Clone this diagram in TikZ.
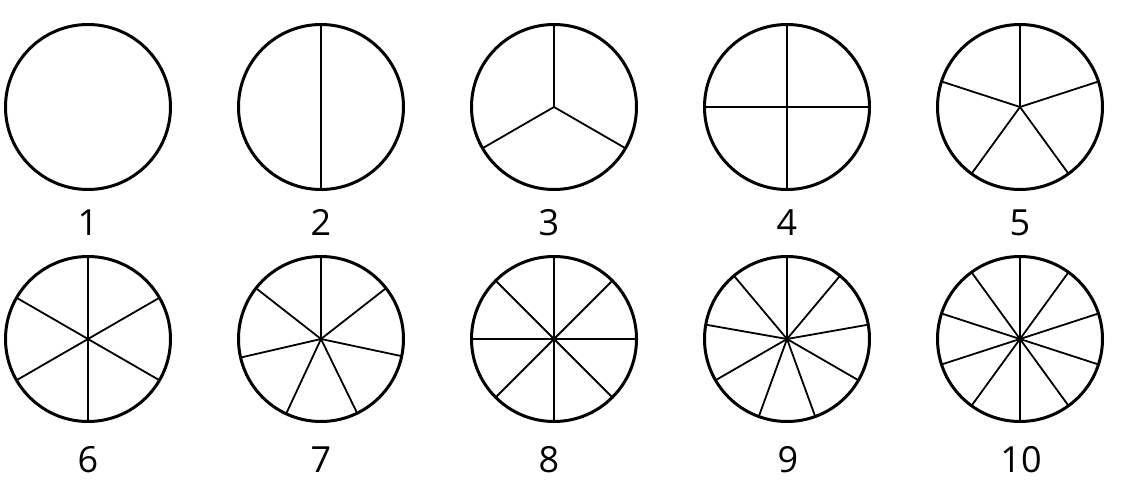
\documentclass[tikz,border=0pt]{standalone}
\usepackage{fontspec}
\setmainfont{Open Sans}
\begin{document}
\begin{tikzpicture}[x=1pt,y=-1pt,
  pie/.style={circle,draw=black,line width=3pt,minimum size=165pt,inner sep=0pt,outer sep=0pt},
  spoke/.style={line width=1.8pt,black},
  lab/.style={anchor=base,inner sep=0pt,font=\fontsize{36}{40}\selectfont}]
\useasboundingbox (0,0) rectangle (1136,502);
\foreach \n/\x/\y in {1/88/107,2/321/107,3/554/107,4/787/107,5/1020/107,
                      6/88/339,7/321/339,8/554/339,9/787/339,10/1020/339}
  \node[pie] (c\n) at (\x,\y) {};
\foreach \n/\x/\y in {1/88/236,2/321/236,3/549/236,4/787/236,5/1020/236,
                      6/88/473,7/321/473,8/549/473,9/788/473,10/1021/473}
  \node[lab] (l\n) at (\x,\y) {\n};
\foreach \n in {2,...,10}
  \foreach \k in {1,...,\n}{
    \pgfmathsetmacro\ang{90-(\k-1)*360/\n}
    \draw[spoke] (c\n.center) -- (c\n.\ang);
  }
\end{tikzpicture}
\end{document}
